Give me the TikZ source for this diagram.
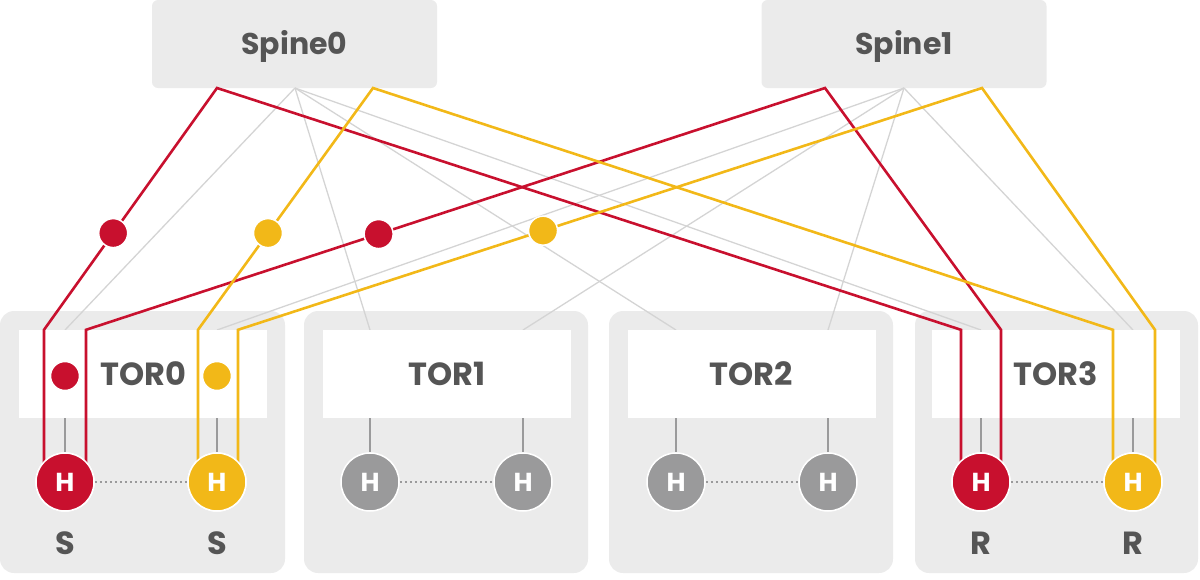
\documentclass[tikz,border=0pt]{standalone}
\usepackage{fontspec}
\setmainfont{Poppins}
\usetikzlibrary{calc}
\definecolor{cred}{HTML}{C8102E}
\definecolor{cyel}{HTML}{F2B818}
\definecolor{cbg}{HTML}{EBEBEB}
\definecolor{ctxt}{HTML}{555555}
\definecolor{cline}{HTML}{D4D4D4}
\definecolor{chost}{HTML}{9A9A9B}
\begin{document}
\begin{tikzpicture}[x=1pt,y=-1pt,
  grp/.style={fill=cbg, rounded corners=14pt},
  spinebox/.style={fill=cbg, rounded corners=6pt, minimum width=285pt, minimum height=88pt, inner sep=0pt,
    text=ctxt, font=\bfseries\fontsize{30}{30}\selectfont, text height=21pt, text depth=0pt},
  torbox/.style={fill=white, minimum width=248pt, minimum height=88pt, inner sep=0pt,
    text=ctxt, font=\bfseries\fontsize{32}{32}\selectfont, text height=22.3pt, text depth=0pt},
  host/.style={circle, minimum size=58pt, inner sep=0pt, draw=white, line width=1.5pt,
    text=white, font=\bfseries\fontsize{26}{26}\selectfont, text height=18.1pt, text depth=0pt},
  hred/.style={host, fill=cred},
  hyel/.style={host, fill=cyel},
  hgray/.style={host, fill=chost},
  dotr/.style={circle, minimum size=29pt, inner sep=0pt, draw=white, line width=1.5pt, fill=cred},
  doty/.style={circle, minimum size=29pt, inner sep=0pt, draw=white, line width=1.5pt, fill=cyel},
  fab/.style={draw=cline, line width=1.3pt},
  hlink/.style={draw=chost, line width=1.8pt},
  peer/.style={draw=chost, line width=2pt, dash pattern=on 2pt off 3pt},
  redp/.style={draw=cred, line width=2.6pt, line join=miter},
  yelp/.style={draw=cyel, line width=2.6pt, line join=miter},
  lbl/.style={text=ctxt, font=\bfseries\fontsize{32}{32}\selectfont, text height=22.3pt, text depth=0pt, inner sep=0pt}
]
\useasboundingbox (0,0) rectangle (1200,579);

% group backgrounds
\fill[grp] (0,311) rectangle (285,573);
\fill[grp] (304,311) rectangle (588,573);
\fill[grp] (609,311) rectangle (893,573);
\fill[grp] (915,311) rectangle (1198,573);

% spines
\node[spinebox] (spine0) at (294.5,44) {Spine0};
\node[spinebox] (spine1) at (904,44) {Spine1};
\coordinate (sp0f) at (295,88);
\coordinate (sp1f) at (904,88);
\coordinate (sp0r) at (217,88);
\coordinate (sp0y) at (373,88);
\coordinate (sp1r) at (825,88);
\coordinate (sp1y) at (982,88);

% host positions (nodes drawn later)
\coordinate (c0a) at (65,482);
\coordinate (c0b) at (217,482);
\coordinate (c1a) at (370,482);
\coordinate (c1b) at (523,482);
\coordinate (c2a) at (676,482);
\coordinate (c2b) at (828,482);
\coordinate (c3a) at (981,482);
\coordinate (c3b) at (1133,482);

% TOR box tops
\coordinate (tor0top) at (143,330);
\coordinate (tor1top) at (447,330);
\coordinate (tor2top) at (751.5,330);
\coordinate (tor3top) at (1056,330);

% fabric links
\draw[fab] (sp0f) -- (c0a |- tor0top);
\draw[fab] (sp0f) -- (c1a |- tor1top);
\draw[fab] (sp0f) -- (c2a |- tor2top);
\draw[fab] (sp0f) -- (c3a |- tor3top);
\draw[fab] (sp1f) -- (c0b |- tor0top);
\draw[fab] (sp1f) -- (c1b |- tor1top);
\draw[fab] (sp1f) -- (c2b |- tor2top);
\draw[fab] (sp1f) -- (c3b |- tor3top);

% TOR nodes
\node[torbox] (tor0) at (143,374) {TOR0};
\node[torbox] (tor1) at (447,374) {TOR1};
\node[torbox] (tor2) at (751.5,374) {TOR2};
\node[torbox] (tor3) at (1056,374) {TOR3};

% hosts
\node[hred] (h0a) at (c0a) {H};
\node[hyel] (h0b) at (c0b) {H};
\node[hgray] (h1a) at (c1a) {H};
\node[hgray] (h1b) at (c1b) {H};
\node[hgray] (h2a) at (c2a) {H};
\node[hgray] (h2b) at (c2b) {H};
\node[hred] (h3a) at (c3a) {H};
\node[hyel] (h3b) at (c3b) {H};

% host to TOR links
\foreach \h/\t in {h0a/tor0,h0b/tor0,h1a/tor1,h1b/tor1,h2a/tor2,h2b/tor2,h3a/tor3,h3b/tor3}
  \draw[hlink] (\t.south -| \h) -- (\h.north);

% peer links
\draw[peer] (h0a.east) -- (h0b.west);
\draw[peer] (h1a.east) -- (h1b.west);
\draw[peer] (h2a.east) -- (h2b.west);
\draw[peer] (h3a.east) -- (h3b.west);

% colored paths
\coordinate (ra0) at ([xshift=-21pt]c0a);
\coordinate (rb0) at ([xshift=21pt]c0a);
\coordinate (ya0) at ([xshift=-19pt]c0b);
\coordinate (yb0) at ([xshift=21pt]c0b);
\coordinate (ra3) at ([xshift=-20pt]c3a);
\coordinate (rb3) at ([xshift=20pt]c3a);
\coordinate (ya3) at ([xshift=-20pt]c3b);
\coordinate (yb3) at ([xshift=22pt]c3b);

\draw[redp] (ra0) -- (ra0 |- tor0.north) -- (sp0r) -- (ra3 |- tor3.north) -- (ra3);
\draw[redp] (rb0) -- (rb0 |- tor0.north) -- (sp1r) -- (rb3 |- tor3.north) -- (rb3);
\draw[yelp] (ya0) -- (ya0 |- tor0.north) -- (sp0y) -- (ya3 |- tor3.north) -- (ya3);
\draw[yelp] (yb0) -- (yb0 |- tor0.north) -- (sp1y) -- (yb3 |- tor3.north) -- (yb3);

% redraw hosts on top of path ends
\node[hred] at (c0a) {H};
\node[hyel] at (c0b) {H};
\node[hred] at (c3a) {H};
\node[hyel] at (c3b) {H};

% dots on paths
\node[dotr] (d1) at ($(ra0 |- tor0.north)!0.40!(sp0r)$) {};
\node[doty] (d2) at ($(ya0 |- tor0.north)!0.40!(sp0y)$) {};
\node[dotr] (d3) at ($(rb0 |- tor0.north)!0.396!(sp1r)$) {};
\node[doty] (d4) at ($(yb0 |- tor0.north)!0.41!(sp1y)$) {};
\node[dotr] (d5) at ([yshift=-2pt]c0a |- tor0) {};
\node[doty] (d6) at ([yshift=-2pt]c0b |- tor0) {};

% labels
\node[lbl] (s0) at (65,543) {S};
\node[lbl] (s1) at (217,543) {S};
\node[lbl] (r0) at (981,543) {R};
\node[lbl] (r1) at (1133,543) {R};
\end{tikzpicture}
\end{document}
